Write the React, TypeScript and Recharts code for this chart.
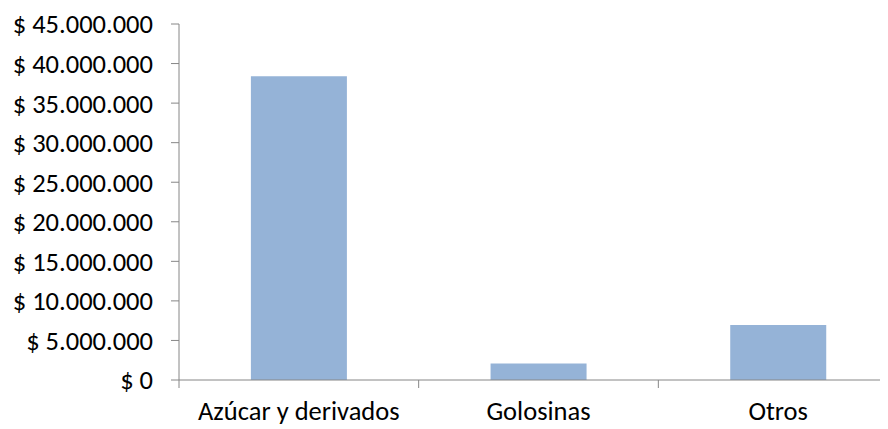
import {BarChart, Bar, XAxis, YAxis} from 'recharts';

const categories = ['Azúcar y derivados', 'Golosinas', 'Otros'];
const ventas = [38400000, 2100000, 6950000];
const yTicks = [0, 5000000, 10000000, 15000000, 20000000, 25000000, 30000000, 35000000, 40000000, 45000000];

const data = categories.map((name, i) => ({name, ventas: ventas[i]}));

const AXIS = '#868686';
const FONT = "Calibri, Carlito, 'Liberation Sans', sans-serif";
const FONT_SIZE = 26.5;

const CHART_W = 898;
const Y_AXIS_W = 179;
const step = (CHART_W - Y_AXIS_W) / categories.length;

const formatPesos = (v: number) => '$ ' + String(v).replace(/\B(?=(\d{3})+(?!\d))/g, '.');

interface TickProps {
    x?: number;
    y?: number;
    payload?: {value: string};
}

// category label centred, tick mark on the left boundary of each band
const CategoryTick = ({x = 0, y = 0, payload}: TickProps) => (
    <g>
        <line x1={x - step / 2} x2={x - step / 2} y1={y - 8} y2={y} stroke={AXIS} strokeWidth={1} />
        <text x={x} y={y + 32} textAnchor="middle" fill="#000" fontSize={FONT_SIZE} fontFamily={FONT}>
            {payload?.value}
        </text>
    </g>
);

export default function App() {
    return (
        <div style={{marginLeft: -8, marginTop: -8, width: 888, height: 429, overflow: 'hidden', background: '#fff'}}>
            <BarChart
                width={CHART_W}
                height={429}
                data={data}
                margin={{top: 24, right: 0, left: 0, bottom: 0}}
                barCategoryGap="30%"
            >
                <XAxis
                    dataKey="name"
                    height={49}
                    stroke={AXIS}
                    tickLine={false}
                    tick={<CategoryTick />}
                    interval={0}
                />
                <YAxis
                    width={Y_AXIS_W}
                    domain={[0, 45000000]}
                    ticks={yTicks}
                    interval={0}
                    stroke={AXIS}
                    tickSize={8}
                    tickMargin={18}
                    tickFormatter={formatPesos}
                    tick={{fill: '#000', fontSize: FONT_SIZE, fontFamily: FONT}}
                />
                <Bar dataKey="ventas" fill="#95B3D7" isAnimationActive={false} />
            </BarChart>
        </div>
    );
}
